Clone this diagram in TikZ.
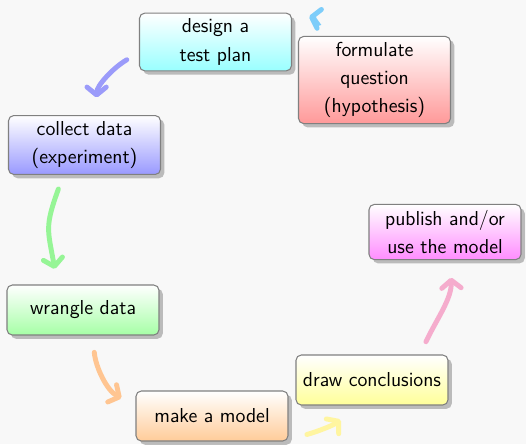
\documentclass[tikz,border=0pt]{standalone}
\usepackage{xcolor}
\usepackage{tikz}
\usetikzlibrary{shapes,arrows.meta,positioning,shadows}
\definecolor{cycBack}{RGB}{248,248,248}
\definecolor{cycCyan}{RGB}{125,205,250}
\definecolor{cycBlue}{RGB}{155,155,250}
\definecolor{cycGreen}{RGB}{150,245,150}
\definecolor{cycOrange}{RGB}{255,197,145}
\definecolor{cycYellow}{RGB}{255,245,160}
\definecolor{cycPink}{RGB}{245,172,205}

\begin{document}
\begin{tikzpicture}[
    stage/.style={rectangle, rounded corners=3pt, draw=black!50, semithick, top color=white, drop shadow, minimum width=3.04cm, minimum height=1cm, align=center, font=\sffamily\fontsize{11.5}{16}\selectfont},
    arrow/.style={-{Straight Barb[round, length=4.5pt, width=11pt]}, line width=2.8pt, line cap=round}
]
    % Canvas
    \path[use as bounding box, fill=cycBack] (0,0) rectangle (10.52,8.88);

    % Stages
    \node[stage, bottom color=red!40] (formulate) at (7.49,7.28) {formulate\\question\\(hypothesis)};
    \node[stage, bottom color=cyan!40] (design) at (4.31,8.04) {design a\\test plan};
    \node[stage, bottom color=blue!40] (collect) at (1.69,5.98) {collect data\\(experiment)};
    \node[stage, bottom color=green!35] (wrangle) at (1.66,2.68) {wrangle data};
    \node[stage, bottom color=orange!40] (model) at (4.24,0.56) {make a model};
    \node[stage, bottom color=yellow!40] (conclude) at (7.44,1.28) {draw conclusions};
    \node[stage, bottom color=magenta!45] (publish) at (8.90,4.24) {publish and/or\\use the model};

    % Arrows
    \draw[arrow, cycCyan, shorten <=13.6pt, shorten >=10pt] (formulate.130) to[out=150, in=-13] (design.north east);
    \draw[arrow, cycBlue, shorten <=8pt, shorten >=10pt] (design.188) to[out=210, in=90] (collect.68);
    \draw[arrow, cycGreen, shorten <=8.5pt, shorten >=9pt] (collect.235) to[out=250, in=100, looseness=1.3] (wrangle.135);
    \draw[arrow, cycOrange, shorten <=9.6pt, shorten >=9pt] (wrangle.291) to[out=275, in=153] (model.172);
    \draw[arrow, cycYellow, shorten <=10.8pt, shorten >=12.5pt] (model.343) to[out=15, in=220] (conclude.240);
    \draw[arrow, cycPink, shorten <=8pt, shorten >=10pt] (conclude.28) to[out=65, in=272] (publish.281);
\end{tikzpicture}
\end{document}
